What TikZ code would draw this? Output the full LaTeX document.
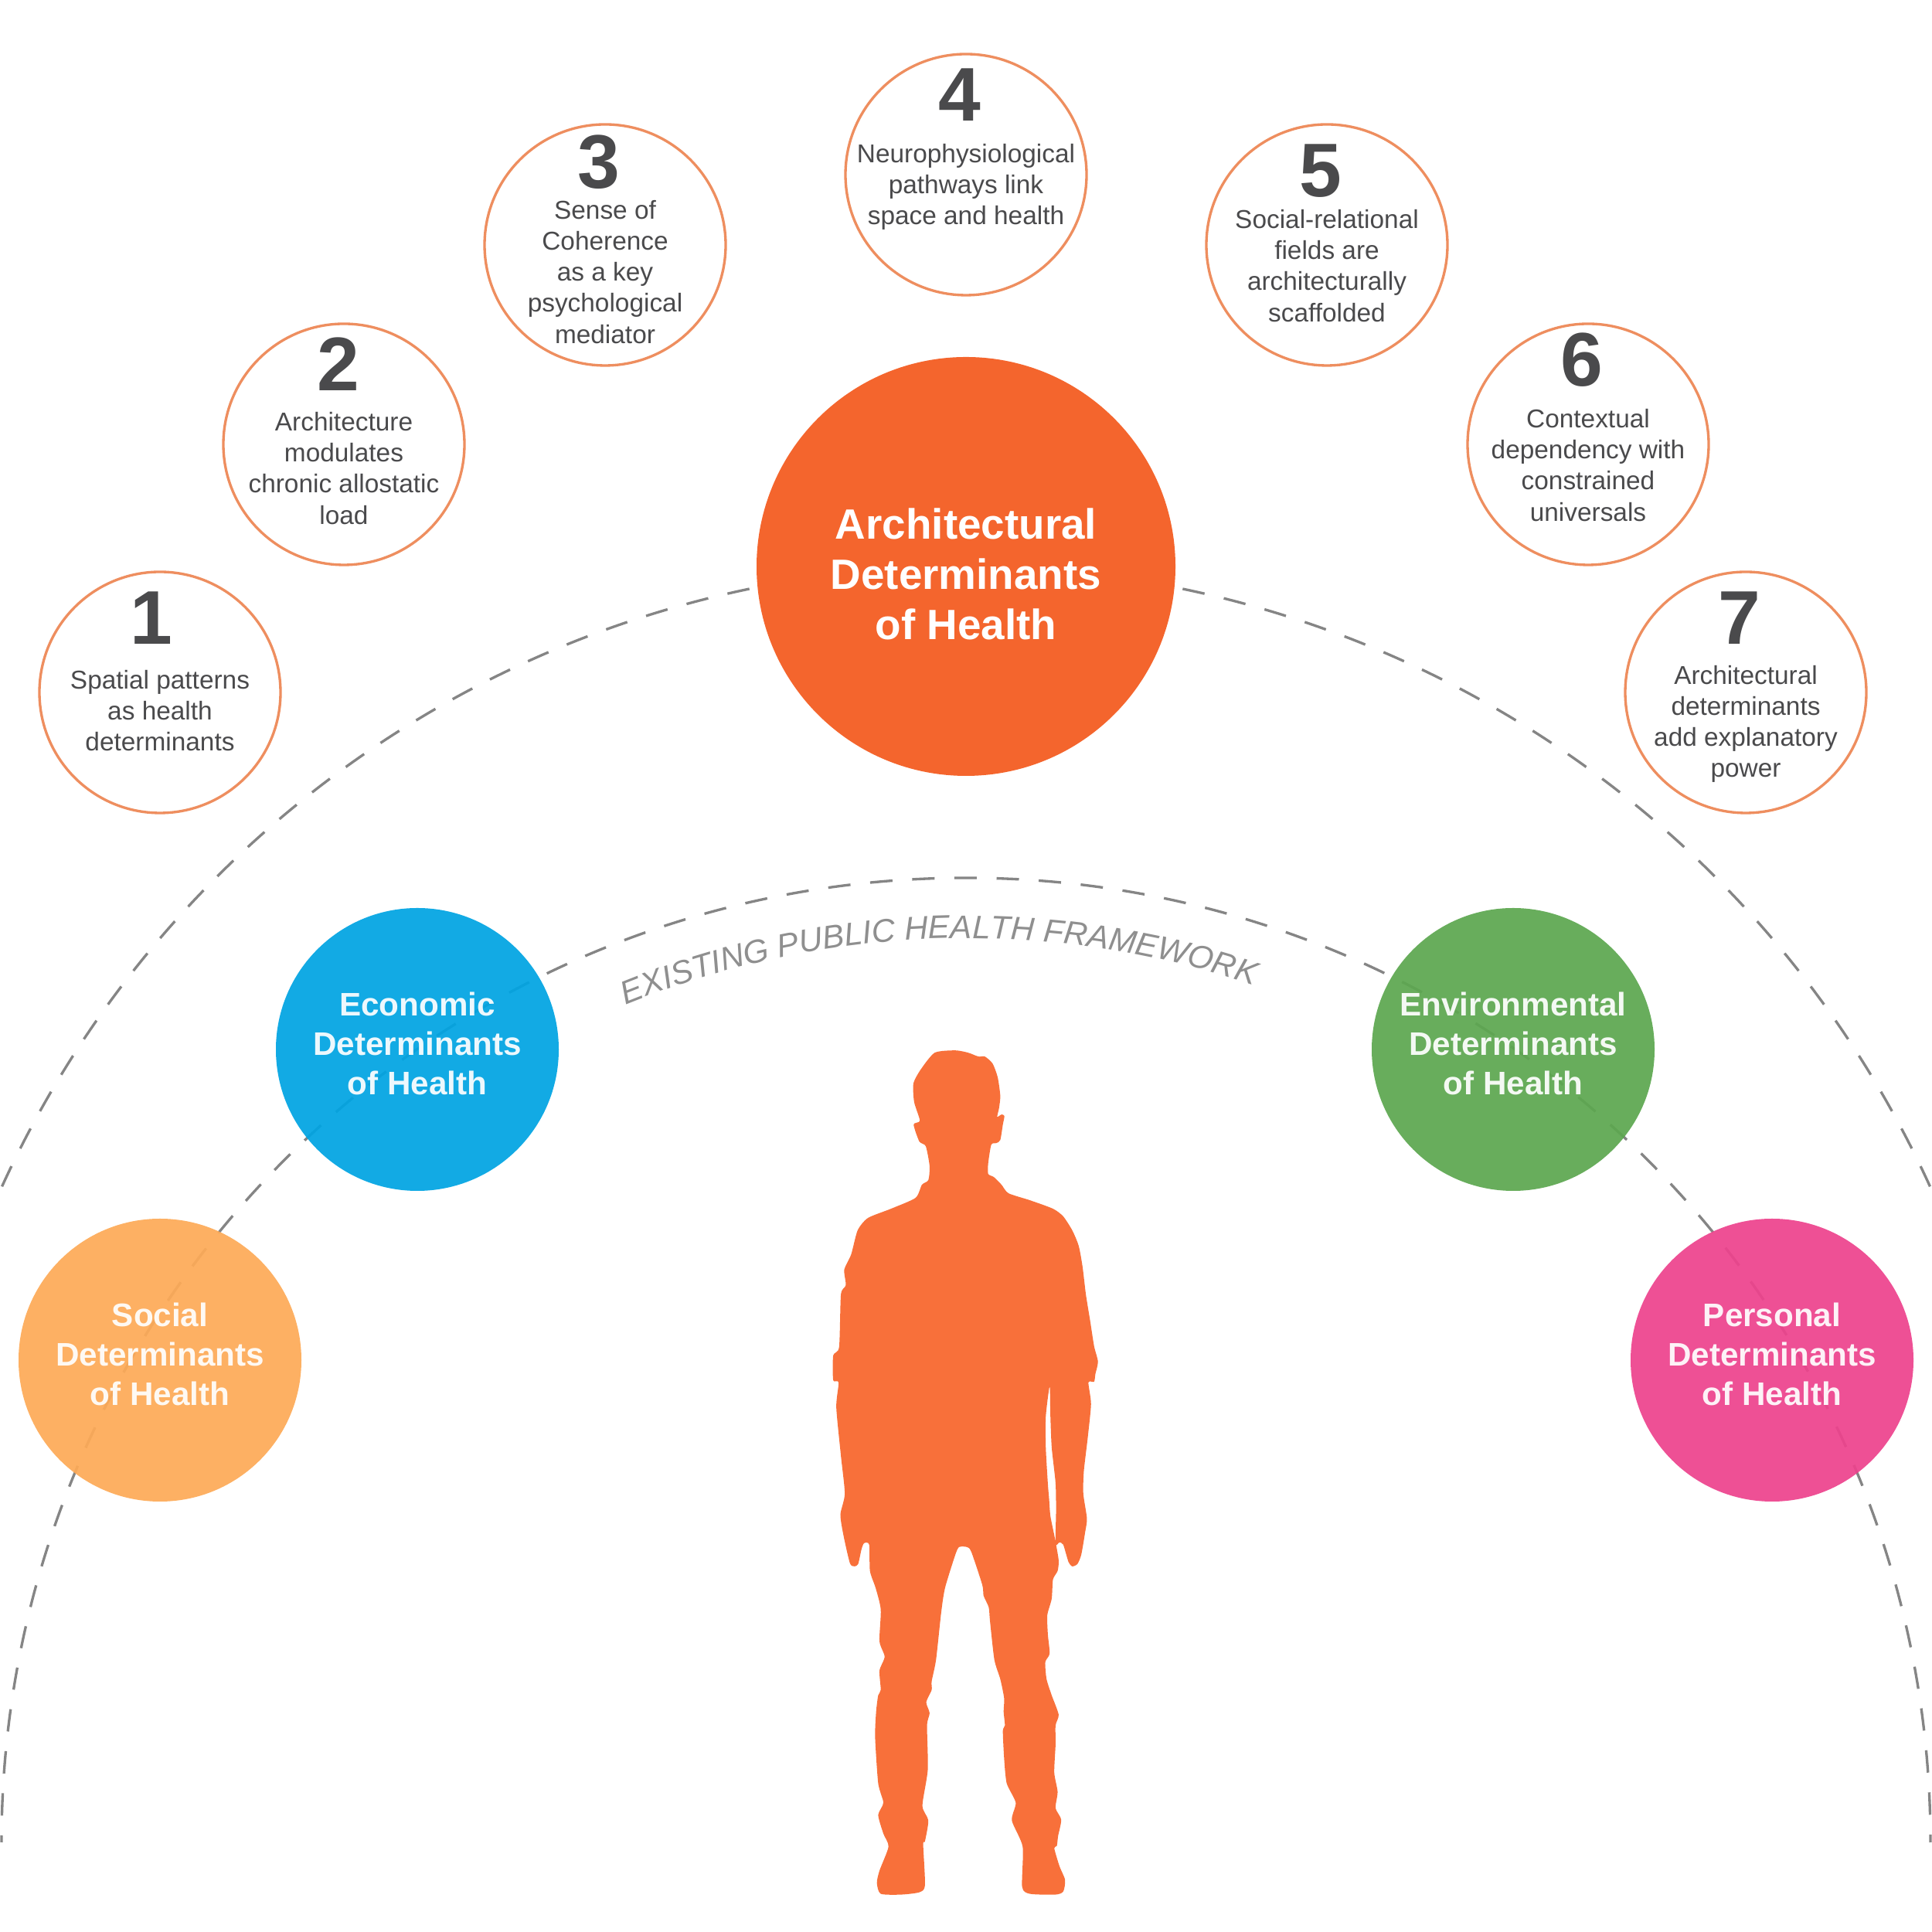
\documentclass[tikz,border=0pt]{standalone}
\usepackage{fontspec}
\setmainfont{Liberation Sans}
\usetikzlibrary{decorations.text}

\definecolor{ringorange}{HTML}{EE8E5F}
\definecolor{archorange}{HTML}{F4652D}
\definecolor{manorange}{HTML}{F8703A}
\definecolor{darktext}{HTML}{4A4A4C}
\definecolor{dashgray}{HTML}{858585}
\definecolor{framegray}{HTML}{8F8F8F}
\definecolor{socialfill}{HTML}{FDAA57}
\definecolor{econfill}{HTML}{00A4E2}
\definecolor{envfill}{HTML}{5DA750}
\definecolor{persfill}{HTML}{ED438D}

\tikzset{
  ringcircle/.style={circle, draw=ringorange, line width=0.95pt, fill=white, minimum size=3.12cm, inner sep=0pt},
  numlabel/.style={text=darktext, inner sep=0pt, font=\bfseries\fontsize{28}{30}\selectfont},
  ringtext/.style={text=darktext, align=center, inner sep=0pt, font=\fontsize{9.5}{11.4}\selectfont},
  detcircle/.style={circle, opacity=0.93, minimum size=3.66cm, inner sep=0pt},
  dettext/.style={text=white, opacity=0.93, align=center, inner sep=0pt, font=\bfseries\fontsize{12}{14.5}\selectfont},
  dashline/.style={dashgray, line width=0.95pt, dash pattern=on 0.29cm off 0.256cm},
}

\begin{document}
\begin{tikzpicture}
            \useasboundingbox (0,0) rectangle (25,25);

            % the two big dashed arcs
            \coordinate (outerc) at (12.5, 3.96);
            \coordinate (innerc) at (12.5, 1.16);
            \draw[dashline] (outerc) ++(101.8:13.71) arc (101.8:156.5:13.71);
            \draw[dashline] (outerc) ++(78.2:13.71) arc (78.2:23.5:13.71);
            \draw[dashline, dash phase=0.2cm] (innerc) ++(180:12.48) arc (180:0:12.48);

            \path[decorate, decoration={text along path, text align=center,
                text={|\color{framegray}\itshape\fontsize{12}{14}\selectfont|EXISTING PUBLIC HEALTH FRAMEWORK}}]
                (innerc) ++(113.8:11.7) arc (113.8:69.8:11.7);

            % the seven findings
            \node[ringcircle] (spatial) at (2.07, 16.04) {};
                \node[numlabel] (spatialnum) at (1.96, 17.0) {1};
                \node[ringtext] (spatialtxt) at (2.07, 15.80) {Spatial patterns\\as health\\determinants};
            \node[ringcircle] (allostatic) at (4.45, 19.25) {};
                \node[numlabel] (allostaticnum) at (4.38, 20.29) {2};
                \node[ringtext] (allostatictxt) at (4.45, 18.94) {Architecture\\modulates\\chronic allostatic\\load};
            \node[ringcircle] (coherence) at (7.83, 21.83) {};
                \node[numlabel] (coherencenum) at (7.75, 22.90) {3};
                \node[ringtext] (coherencetxt) at (7.83, 21.48) {Sense of\\Coherence\\as a key\\psychological\\mediator};
            \node[ringcircle] (neuro) at (12.5, 22.74) {};
                \node[numlabel] (neuronum) at (12.42, 23.77) {4};
                \node[ringtext] (neurotxt) at (12.5, 22.58) {Neurophysiological\\pathways link\\space and health};
            \node[ringcircle] (fields) at (17.17, 21.83) {};
                \node[numlabel] (fieldsnum) at (17.09, 22.79) {5};
                \node[ringtext] (fieldstxt) at (17.17, 21.56) {Social-relational\\fields are\\architecturally\\scaffolded};
            \node[ringcircle] (context) at (20.55, 19.25) {};
                \node[numlabel] (contextnum) at (20.47, 20.34) {6};
                \node[ringtext] (contexttxt) at (20.55, 18.98) {Contextual\\dependency with\\constrained\\universals};
            \node[ringcircle] (power) at (22.59, 16.04) {};
                \node[numlabel] (powernum) at (22.51, 17.00) {7};
                \node[ringtext] (powertxt) at (22.59, 15.63) {Architectural\\determinants\\add explanatory\\power};

            % centre circle
            \node[circle, fill=archorange, minimum size=5.42cm, inner sep=0pt] (arch) at (12.5, 17.67) {};
                \node[text=white, align=center, inner sep=0pt, font=\bfseries\fontsize{15.6}{18.5}\selectfont] (archtxt) at (12.5, 17.57) {Architectural\\Determinants\\of Health};

            % the four determinants
            \node[detcircle, fill=econfill] (econ) at (5.40, 11.42) {};
                \node[dettext] (econtxt) at (5.40, 11.50) {Economic\\Determinants\\of Health};
            \node[detcircle, fill=envfill] (env) at (19.58, 11.42) {};
                \node[dettext] (envtxt) at (19.58, 11.50) {Environmental\\Determinants\\of Health};
            \node[detcircle, fill=socialfill] (social) at (2.07, 7.40) {};
                \node[dettext] (socialtxt) at (2.07, 7.48) {Social\\Determinants\\of Health};
            \node[detcircle, fill=persfill] (pers) at (22.93, 7.40) {};
                \node[dettext] (perstxt) at (22.93, 7.48) {Personal\\Determinants\\of Health};

            % person, traced
            \begin{scope}[shift={(10, 25)}, x=0.003333cm, y=-0.01cm]
                \fill[manorange] plot[smooth cycle, tension=0.4] coordinates {
                    (710,1360) (760,1363) (800,1368) (825,1368) (855,1377) (875,1395) (885,1419) (880,1435) (873,1446)
                    (890,1443) (901,1445) (895,1456) (885,1476) (870,1480) (850,1482) (838,1506) (838,1520) (860,1524)
                    (890,1534) (917,1545) (1000,1554) (1090,1565) (1130,1575) (1165,1593) (1190,1613) (1205,1640)
                    (1218,1676) (1235,1711) (1250,1743) (1265,1763) (1255,1779) (1250,1789) (1228,1790) (1238,1818)
                    (1225,1862) (1210,1905) (1208,1934) (1222,1966) (1215,1984) (1200,2013) (1185,2025)
                    (1165,2028) (1150,2022) (1130,2000) (1115,1997) (1100,1999) (1102,1956) (1100,1920)
                    (1085,1874) (1080,1834) (1077,1795) (1062,1834) (1062,1874) (1070,1921) (1075,1941)
                    (1080,1963) (1097,1991) (1112,2020) (1108,2034) (1090,2045) (1085,2070) (1068,2091) (1070,2116)
                    (1077,2141) (1060,2152) (1065,2174) (1085,2195) (1112,2220) (1100,2234) (1100,2259) (1095,2295)
                    (1108,2320) (1100,2341) (1122,2356) (1110,2377) (1105,2390) (1095,2393) (1115,2416) (1137,2434)
                    (1130,2449) (1100,2453) (1000,2452) (970,2443) (972,2391) (930,2357) (945,2334) (910,2309)
                    (900,2277) (895,2241) (903,2234) (898,2216) (900,2199) (885,2174) (862,2149) (845,2099)
                    (840,2081) (820,2066) (815,2052) (772,2009) (755,2003) (725,2003) (710,2013) (670,2056)
                    (655,2088) (635,2149) (618,2177) (618,2188) (597,2204) (610,2218) (600,2234) (603,2291)
                    (582,2338) (605,2357) (592,2384) (585,2388) (592,2441) (570,2450) (500,2453) (420,2452)
                    (405,2438) (415,2422) (450,2391) (430,2374) (410,2350) (430,2334) (410,2309) (398,2249)
                    (402,2216) (410,2195) (420,2188) (415,2163) (435,2145) (415,2125) (420,2084) (400,2056)
                    (378,2034) (375,2000) (355,1998) (345,2006) (332,2025) (318,2028) (300,2024) (275,1988)
                    (263,1961) (280,1934) (265,1885) (247,1822) (256,1790) (235,1787) (235,1755)
                    (258,1744) (265,1676) (284,1664) (278,1644) (305,1624) (330,1593) (370,1577) (460,1565) (555,1551)
                    (580,1534) (605,1528) (610,1510) (595,1484) (570,1478) (548,1456) (572,1451) (550,1427) (547,1403)
                    (575,1385) (630,1363)
                };
            \end{scope}
      \end{tikzpicture}
\end{document}
